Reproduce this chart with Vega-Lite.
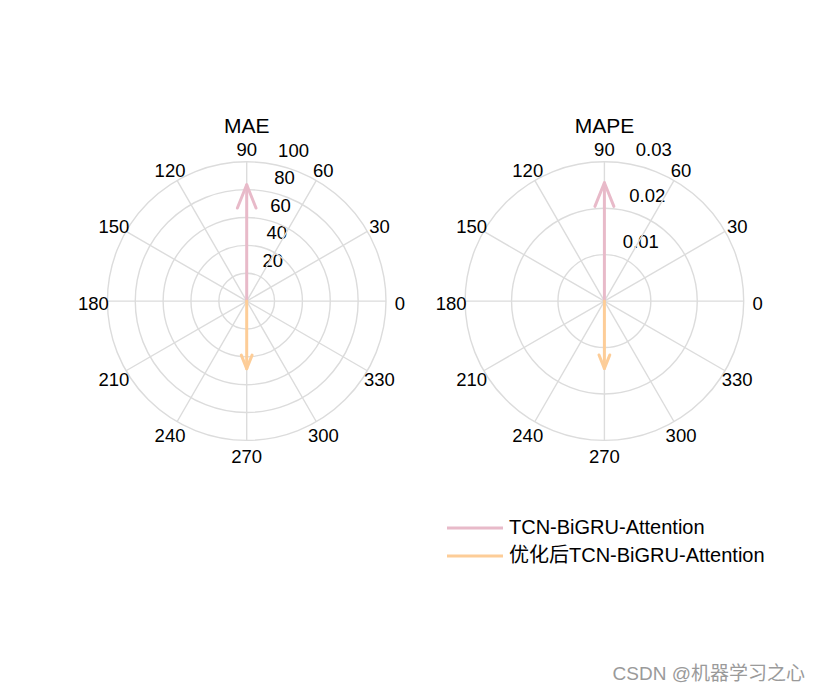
{
  "$schema": "https://vega.github.io/schema/vega-lite/v6.json",
  "width": 822,
  "height": 692,
  "autosize": {"type": "fit", "contains": "padding"},
  "padding": 0,
  "background": "#ffffff",
  "config": {
    "view": {"stroke": null},
    "font": "Liberation Sans",
    "text": {"font": "Liberation Sans", "color": "#000000"}
  },
  "title": {
    "text": "CSDN @机器学习之心",
    "orient": "bottom",
    "anchor": "end",
    "frame": "group",
    "baseline": "alphabetic",
    "offset": -12,
    "dx": -17,
    "font": "Liberation Sans, Noto Sans CJK SC",
    "fontSize": 19,
    "fontWeight": "normal",
    "color": "#9a9a9a"
  },
  "datasets": {
    "arrows": [
      {"metric": "MAE", "model": "TCN-BiGRU-Attention", "angle": 90, "magnitude": 83.5, "u": 0, "v": 83.5},
      {"metric": "MAE", "model": "优化后TCN-BiGRU-Attention", "angle": 270, "magnitude": 48.5, "u": 0, "v": -48.5},
      {"metric": "MAPE", "model": "TCN-BiGRU-Attention", "angle": 90, "magnitude": 0.0255, "u": 0, "v": 0.0255},
      {"metric": "MAPE", "model": "优化后TCN-BiGRU-Attention", "angle": 270, "magnitude": 0.0145, "u": 0, "v": -0.0145}
    ],
    "maeRings": [{"r": 20}, {"r": 40}, {"r": 60}, {"r": 80}, {"r": 100}],
    "mapeRings": [{"r": 0.01}, {"r": 0.02}, {"r": 0.03}],
    "spokes": [
      {"angle": 0}, {"angle": 30}, {"angle": 60}, {"angle": 90}, {"angle": 120}, {"angle": 150},
      {"angle": 180}, {"angle": 210}, {"angle": 240}, {"angle": 270}, {"angle": 300}, {"angle": 330}
    ],
    "titles": [{"metric": "MAE"}, {"metric": "MAPE"}]
  },
  "layer": [
    {
      "layer": [
        {
          "data": {"name": "maeRings"},
          "mark": {"type": "text", "align": "left", "baseline": "alphabetic", "dx": 12, "dy": -6.6, "fontSize": 18.5},
          "encoding": {
            "x": {"datum": 0, "type": "quantitative", "scale": {"domain": [-100, 100], "range": [107.4, 386.0], "nice": false, "zero": false}, "axis": null},
            "y": {"datum": 0, "type": "quantitative", "scale": {"domain": [-100, 100], "range": [440.4, 161.8], "nice": false, "zero": false}, "axis": null},
            "theta": {"datum": 82, "type": "quantitative", "scale": {"domain": [90, -270], "range": [0, 6.283185307179586], "nice": false, "zero": false}},
            "radius": {"field": "r", "type": "quantitative", "stack": null, "scale": {"type": "linear", "domain": [0, 100], "range": [0, 139.3], "nice": false, "zero": false}},
            "text": {"field": "r", "type": "quantitative", "format": "d"}
          }
        },
        {
          "data": {"name": "maeRings"},
          "mark": {"type": "arc", "theta": 0, "theta2": 6.2832, "filled": false, "stroke": "#dcdcdc", "strokeWidth": 1.4},
          "encoding": {
            "x": {"datum": 0, "type": "quantitative", "axis": null},
            "y": {"datum": 0, "type": "quantitative", "axis": null},
            "radius": {"field": "r", "type": "quantitative", "stack": null}
          }
        },
        {
          "data": {"name": "spokes"},
          "mark": {"type": "arc", "filled": false, "stroke": "#dcdcdc", "strokeWidth": 1.4},
          "encoding": {
            "x": {"datum": 0, "type": "quantitative", "axis": null},
            "y": {"datum": 0, "type": "quantitative", "axis": null},
            "theta": {"field": "angle", "type": "quantitative", "stack": null},
            "theta2": {"field": "angle"},
            "radius": {"datum": 100, "type": "quantitative"}
          }
        },
        {
          "data": {"name": "spokes"},
          "mark": {"type": "text", "align": "center", "baseline": "middle", "dy": 2.5, "fontSize": 18.5, "radiusOffset": 14},
          "encoding": {
            "x": {"datum": 0, "type": "quantitative", "axis": null},
            "y": {"datum": 0, "type": "quantitative", "axis": null},
            "theta": {"field": "angle", "type": "quantitative", "stack": null},
            "radius": {"datum": 100, "type": "quantitative"},
            "text": {"field": "angle", "type": "quantitative", "format": "d"}
          }
        },
        {
          "data": {"name": "titles"},
          "transform": [{"filter": "datum.metric === 'MAE'"}],
          "mark": {"type": "text", "align": "center", "baseline": "alphabetic", "dy": -29, "fontSize": 21},
          "encoding": {
            "x": {"datum": 0, "type": "quantitative", "axis": null},
            "y": {"datum": 100, "type": "quantitative", "axis": null},
            "text": {"field": "metric", "type": "nominal"}
          }
        },
        {
          "data": {"name": "arrows"},
          "transform": [{"filter": "datum.metric === 'MAE'"}],
          "mark": {"type": "rule", "strokeWidth": 3, "strokeCap": "round"},
          "encoding": {
            "x": {"field": "u", "type": "quantitative", "axis": null},
            "x2": {"datum": 0},
            "y": {"field": "v", "type": "quantitative", "axis": null},
            "y2": {"datum": 0},
            "color": {
              "field": "model", "type": "nominal",
              "scale": {"domain": ["TCN-BiGRU-Attention", "优化后TCN-BiGRU-Attention"], "range": ["#e8bac9", "#fdcd98"]},
              "legend": {
                "title": null, "orient": "none", "legendX": 465, "legendY": 518, "padding": 0,
                "symbolType": "M-4,0L4,0", "symbolSize": 196, "symbolStrokeWidth": 3,
                "labelFont": "Liberation Sans, Noto Sans CJK SC", "labelFontSize": 20, "labelColor": "#000000",
                "labelOffset": 24, "rowPadding": 8, "labelLimit": 500
              }
            }
          }
        },
        {
          "data": {"name": "arrows"},
          "transform": [{"filter": "datum.metric === 'MAE'"}],
          "mark": {"type": "point", "shape": "M-0.4,1L0,0L0.4,1", "filled": false, "strokeWidth": 3, "opacity": 1, "strokeCap": "round", "strokeJoin": "round"},
          "encoding": {
            "x": {"field": "u", "type": "quantitative", "axis": null},
            "y": {"field": "v", "type": "quantitative", "axis": null},
            "angle": {"field": "angle", "type": "quantitative", "scale": {"domain": [0, 360], "range": [90, -270]}},
            "size": {"field": "magnitude", "type": "quantitative", "scale": {"type": "pow", "exponent": 2, "domain": [0, 100], "range": [0, 3105], "zero": false, "nice": false}, "legend": null},
            "color": {"field": "model", "type": "nominal", "legend": null}
          }
        }
      ]
    },
    {
      "layer": [
        {
          "data": {"name": "mapeRings"},
          "mark": {"type": "text", "align": "left", "baseline": "alphabetic", "dx": 12, "dy": -7, "fontSize": 18.5},
          "encoding": {
            "x": {"datum": 0, "type": "quantitative", "scale": {"domain": [-0.03, 0.03], "range": [465.1, 743.7], "nice": false, "zero": false}, "axis": null},
            "y": {"datum": 0, "type": "quantitative", "scale": {"domain": [-0.03, 0.03], "range": [440.4, 161.8], "nice": false, "zero": false}, "axis": null},
            "theta": {"datum": 82, "type": "quantitative", "scale": {"domain": [90, -270], "range": [0, 6.283185307179586], "nice": false, "zero": false}},
            "radius": {"field": "r", "type": "quantitative", "stack": null, "scale": {"type": "linear", "domain": [0, 0.03], "range": [0, 139.3], "nice": false, "zero": false}},
            "text": {"field": "r", "type": "quantitative", "format": ".2f"}
          }
        },
        {
          "data": {"name": "mapeRings"},
          "mark": {"type": "arc", "theta": 0, "theta2": 6.2832, "filled": false, "stroke": "#dcdcdc", "strokeWidth": 1.4},
          "encoding": {
            "x": {"datum": 0, "type": "quantitative", "axis": null},
            "y": {"datum": 0, "type": "quantitative", "axis": null},
            "radius": {"field": "r", "type": "quantitative", "stack": null}
          }
        },
        {
          "data": {"name": "spokes"},
          "mark": {"type": "arc", "filled": false, "stroke": "#dcdcdc", "strokeWidth": 1.4},
          "encoding": {
            "x": {"datum": 0, "type": "quantitative", "axis": null},
            "y": {"datum": 0, "type": "quantitative", "axis": null},
            "theta": {"field": "angle", "type": "quantitative", "stack": null},
            "theta2": {"field": "angle"},
            "radius": {"datum": 0.03, "type": "quantitative"}
          }
        },
        {
          "data": {"name": "spokes"},
          "mark": {"type": "text", "align": "center", "baseline": "middle", "dy": 2.5, "fontSize": 18.5, "radiusOffset": 14},
          "encoding": {
            "x": {"datum": 0, "type": "quantitative", "axis": null},
            "y": {"datum": 0, "type": "quantitative", "axis": null},
            "theta": {"field": "angle", "type": "quantitative", "stack": null},
            "radius": {"datum": 0.03, "type": "quantitative"},
            "text": {"field": "angle", "type": "quantitative", "format": "d"}
          }
        },
        {
          "data": {"name": "titles"},
          "transform": [{"filter": "datum.metric === 'MAPE'"}],
          "mark": {"type": "text", "align": "center", "baseline": "alphabetic", "dy": -29, "fontSize": 21},
          "encoding": {
            "x": {"datum": 0, "type": "quantitative", "axis": null},
            "y": {"datum": 0.03, "type": "quantitative", "axis": null},
            "text": {"field": "metric", "type": "nominal"}
          }
        },
        {
          "data": {"name": "arrows"},
          "transform": [{"filter": "datum.metric === 'MAPE'"}],
          "mark": {"type": "rule", "strokeWidth": 3, "strokeCap": "round"},
          "encoding": {
            "x": {"field": "u", "type": "quantitative", "axis": null},
            "x2": {"datum": 0},
            "y": {"field": "v", "type": "quantitative", "axis": null},
            "y2": {"datum": 0},
            "color": {"field": "model", "type": "nominal"}
          }
        },
        {
          "data": {"name": "arrows"},
          "transform": [{"filter": "datum.metric === 'MAPE'"}],
          "mark": {"type": "point", "shape": "M-0.4,1L0,0L0.4,1", "filled": false, "strokeWidth": 3, "opacity": 1, "strokeCap": "round", "strokeJoin": "round"},
          "encoding": {
            "x": {"field": "u", "type": "quantitative", "axis": null},
            "y": {"field": "v", "type": "quantitative", "axis": null},
            "angle": {"field": "angle", "type": "quantitative"},
            "size": {"field": "magnitude", "type": "quantitative", "scale": {"type": "pow", "exponent": 2, "domain": [0, 0.03], "range": [0, 3105], "zero": false, "nice": false}, "legend": null},
            "color": {"field": "model", "type": "nominal", "legend": null}
          }
        }
      ]
    }
  ],
  "resolve": {
    "scale": {"x": "independent", "y": "independent", "radius": "independent", "size": "independent"}
  }
}
